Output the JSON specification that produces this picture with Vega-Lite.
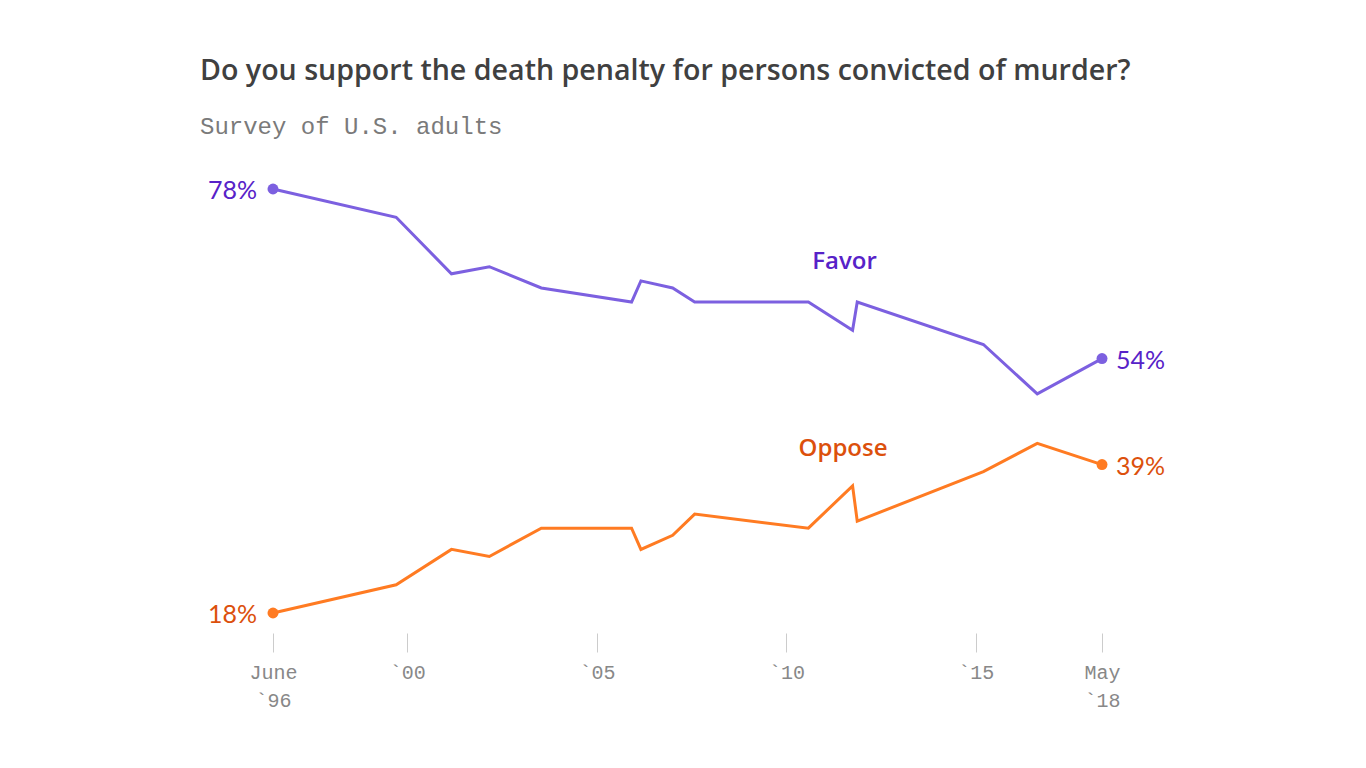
{
  "$schema": "https://vega.github.io/schema/vega-lite/v6.json",
  "width": 829,
  "height": 424,
  "autosize": {"type": "none"},
  "padding": {"left": 273, "top": 189, "right": 264, "bottom": 155},
  "background": "white",
  "config": {"view": {"stroke": null}},
  "title": {
    "text": "Do you support the death penalty for persons convicted of murder?",
    "subtitle": "Survey of U.S. adults",
    "anchor": "start",
    "frame": "group",
    "dx": -73,
    "offset": 40,
    "font": "Open Sans",
    "fontSize": 28.6,
    "fontWeight": 600,
    "color": "#404040",
    "subtitleFont": "Liberation Mono",
    "subtitleFontSize": 24,
    "subtitleColor": "#7a7a7a",
    "subtitlePadding": 29
  },
  "data": {
    "values": [
      {"date": "1996-06-15", "series": "Favor", "value": 78},
      {"date": "1999-09-15", "series": "Favor", "value": 74},
      {"date": "2001-03-01", "series": "Favor", "value": 66},
      {"date": "2002-03-01", "series": "Favor", "value": 67},
      {"date": "2003-07-15", "series": "Favor", "value": 64},
      {"date": "2005-12-01", "series": "Favor", "value": 62},
      {"date": "2006-03-01", "series": "Favor", "value": 65},
      {"date": "2007-01-01", "series": "Favor", "value": 64},
      {"date": "2007-08-01", "series": "Favor", "value": 62},
      {"date": "2010-08-01", "series": "Favor", "value": 62},
      {"date": "2011-10-01", "series": "Favor", "value": 58},
      {"date": "2011-11-15", "series": "Favor", "value": 62},
      {"date": "2015-03-15", "series": "Favor", "value": 56},
      {"date": "2016-08-15", "series": "Favor", "value": 49},
      {"date": "2018-05-01", "series": "Favor", "value": 54},
      {"date": "1996-06-15", "series": "Oppose", "value": 18},
      {"date": "1999-09-15", "series": "Oppose", "value": 22},
      {"date": "2001-03-01", "series": "Oppose", "value": 27},
      {"date": "2002-03-01", "series": "Oppose", "value": 26},
      {"date": "2003-07-15", "series": "Oppose", "value": 30},
      {"date": "2005-12-01", "series": "Oppose", "value": 30},
      {"date": "2006-03-01", "series": "Oppose", "value": 27},
      {"date": "2007-01-01", "series": "Oppose", "value": 29},
      {"date": "2007-08-01", "series": "Oppose", "value": 32},
      {"date": "2010-08-01", "series": "Oppose", "value": 30},
      {"date": "2011-10-01", "series": "Oppose", "value": 36},
      {"date": "2011-11-15", "series": "Oppose", "value": 31},
      {"date": "2015-03-15", "series": "Oppose", "value": 38},
      {"date": "2016-08-15", "series": "Oppose", "value": 42},
      {"date": "2018-05-01", "series": "Oppose", "value": 39}
    ],
    "format": {"parse": {"date": "date"}}
  },
  "encoding": {
    "x": {
      "field": "date",
      "type": "temporal",
      "scale": {
        "type": "utc",
        "domain": [
          {"year": 1996, "month": 6, "date": 15, "utc": true},
          {"year": 2018, "month": 5, "date": 1, "utc": true}
        ],
        "nice": false
      },
      "axis": {
        "title": null,
        "domain": false,
        "grid": false,
        "offset": 20,
        "tickSize": 19,
        "tickColor": "#cccccc",
        "tickWidth": 1,
        "labelFont": "Liberation Mono",
        "labelFontSize": 20,
        "labelColor": "#888888",
        "labelPadding": 10,
        "labelLineHeight": 28,
        "labelBaseline": "top",
        "labelFlush": false,
        "labelOverlap": false,
        "values": [
          {"year": 1996, "month": 6, "date": 15, "utc": true},
          {"year": 2000, "month": 1, "date": 1, "utc": true},
          {"year": 2005, "month": 1, "date": 1, "utc": true},
          {"year": 2010, "month": 1, "date": 1, "utc": true},
          {"year": 2015, "month": 1, "date": 1, "utc": true},
          {"year": 2018, "month": 5, "date": 1, "utc": true}
        ],
        "labelExpr": "utcyear(datum.value) == 1996 ? ['June', '`96\\u00a0'] : utcyear(datum.value) == 2018 ? ['May', '`18\\u00a0'] : '`' + substring('' + utcyear(datum.value), 2, 4)"
      }
    },
    "y": {
      "field": "value",
      "type": "quantitative",
      "scale": {"domain": [18, 78], "nice": false, "zero": false},
      "axis": null
    }
  },
  "layer": [
    {
      "mark": {"type": "line", "strokeWidth": 3, "strokeJoin": "miter"},
      "encoding": {
        "color": {
          "field": "series",
          "type": "nominal",
          "scale": {"domain": ["Favor", "Oppose"], "range": ["#7c60e0", "#ff7b22"]},
          "legend": null
        }
      }
    },
    {
      "transform": [{"filter": "utcyear(datum.date) == 1996 || utcyear(datum.date) == 2018"}],
      "mark": {"type": "point", "filled": true, "size": 120, "opacity": 1},
      "encoding": {
        "color": {
          "field": "series",
          "type": "nominal",
          "scale": {"domain": ["Favor", "Oppose"], "range": ["#7c60e0", "#ff7b22"]},
          "legend": null
        }
      }
    },
    {
      "transform": [
        {"filter": "utcyear(datum.date) == 1996"},
        {"calculate": "datum.value + '%'", "as": "label"}
      ],
      "mark": {"type": "text", "align": "right", "baseline": "middle", "dx": -16, "dy": 2, "font": "Lato", "fontSize": 25},
      "encoding": {
        "text": {"field": "label"},
        "color": {
          "field": "series",
          "type": "nominal",
          "scale": {"domain": ["Favor", "Oppose"], "range": ["#5722c8", "#dc500c"]},
          "legend": null
        }
      }
    },
    {
      "transform": [
        {"filter": "utcyear(datum.date) == 2018"},
        {"calculate": "datum.value + '%'", "as": "label"}
      ],
      "mark": {"type": "text", "align": "left", "baseline": "middle", "dx": 14, "dy": 2, "font": "Lato", "fontSize": 25},
      "encoding": {
        "text": {"field": "label"},
        "color": {
          "field": "series",
          "type": "nominal",
          "scale": {"domain": ["Favor", "Oppose"], "range": ["#5722c8", "#dc500c"]},
          "legend": null
        }
      }
    },
    {
      "data": {
        "values": [
          {"date": "2011-07-15", "series": "Favor", "value": 67.6},
          {"date": "2011-07-01", "series": "Oppose", "value": 41.2}
        ]
      },
      "mark": {"type": "text", "align": "center", "baseline": "middle", "font": "Open Sans", "fontSize": 24, "fontWeight": 600},
      "encoding": {
        "text": {"field": "series", "type": "nominal"},
        "color": {
          "field": "series",
          "type": "nominal",
          "scale": {"domain": ["Favor", "Oppose"], "range": ["#5722c8", "#dc500c"]},
          "legend": null
        }
      }
    }
  ],
  "resolve": {"scale": {"color": "independent"}}
}
